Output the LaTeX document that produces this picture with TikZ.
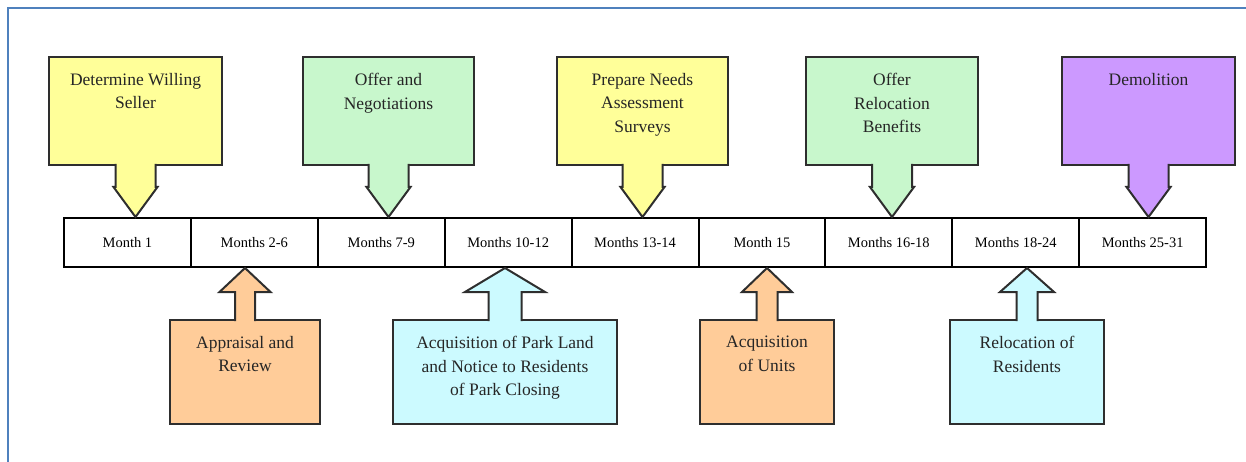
\documentclass[tikz,border=0pt]{standalone}
\usepackage{fontspec}
\setmainfont{Liberation Serif}
\usetikzlibrary{calc}

\definecolor{frameblue}{HTML}{4F81BD}
\definecolor{boxyellow}{HTML}{FFFF99}
\definecolor{boxgreen}{HTML}{C8F7CC}
\definecolor{boxpurple}{HTML}{CC99FF}
\definecolor{boxorange}{HTML}{FFCC99}
\definecolor{boxcyan}{HTML}{CCFAFF}
\definecolor{edgegray}{HTML}{2E2E2E}

\tikzset{
	cell/.style={draw=black, line width=2pt, minimum width=126.9pt, minimum height=49pt,
		inner sep=0pt, font=\fontsize{14.5}{17}\selectfont},
	callbox/.style={draw=edgegray, line width=2pt, outer sep=0pt, inner sep=0pt},
	boxtext/.style={anchor=north, inner sep=0pt, align=center, text=black!85,
		font=\fontsize{17.5}{23.5}\selectfont},
	pointer/.style={draw=edgegray, line width=2pt, line join=miter},
}

\begin{document}
\begin{tikzpicture}[x=1pt, y=-1pt]

	\useasboundingbox (0,0) rectangle (1246,462);
	\draw[frameblue, line width=2pt] (8,470) -- (8,8) -- (1250,8);

	% timeline
	\foreach \lbl [count=\i] in {Month 1, Months 2-6, Months 7-9, Months 10-12, Months 13-14,
		Month 15, Months 16-18, Months 18-24, Months 25-31}
		\node[cell] (m\i) at ({64+126.9*(\i-0.5)}, 242.5) {\lbl};

	% boxes above, pointing down
	\foreach \nm/\x/\bw/\col/\txt in {
		seller/135.5/173/boxyellow/{Determine Willing\\Seller},
		offer/388.5/171/boxgreen/{Offer and\\Negotiations},
		survey/642.5/171/boxyellow/{Prepare Needs\\Assessment\\Surveys},
		benefit/892/172/boxgreen/{Offer\\Relocation\\Benefits},
		demo/1148.5/173/boxpurple/{Demolition}}
	{
		\node[callbox, fill=\col, minimum width=\bw pt, minimum height=108pt,
			label={[boxtext, yshift=-16pt]north:{\txt}}] (\nm) at (\x, 111) {};
		\coordinate (\nm tip) at (\nm.south |- m1.north);
		\fill[\col] ($(\nm.south)+(-20,-3)$) -- ($(\nm tip)+(-20,-30)$) -- ($(\nm tip)+(-22,-30)$)
			-- (\nm tip) -- ($(\nm tip)+(22,-30)$) -- ($(\nm tip)+(20,-30)$) -- ($(\nm.south)+(20,-3)$) -- cycle;
		\draw[pointer] ($(\nm.south)+(-20,-1)$) -- ($(\nm tip)+(-20,-30)$) -- ($(\nm tip)+(-22,-30)$)
			-- (\nm tip) -- ($(\nm tip)+(22,-30)$) -- ($(\nm tip)+(20,-30)$) -- ($(\nm.south)+(20,-1)$);
	}

	% boxes below, pointing up
	\foreach \nm/\x/\bw/\col/\sh/\hh/\txt in {
		appraisal/245/150/boxorange/10/25.5/{Appraisal and\\Review},
		land/505/224/boxcyan/16.5/40/{Acquisition of Park Land\\and Notice to Residents\\of Park Closing},
		units/767/134/boxorange/10.5/25/{Acquisition\\of Units},
		reloc/1027/154/boxcyan/10.5/27/{Relocation of\\Residents}}
	{
		\node[callbox, fill=\col, minimum width=\bw pt, minimum height=104pt,
			label={[boxtext, yshift=-16pt]north:{\txt}}] (\nm) at (\x, 372) {};
		\coordinate (\nm tip) at (\nm.north |- m1.south);
		\fill[\col] ($(\nm.north)+(-\sh,3)$) -- ($(\nm tip)+(-\sh,24)$) -- ($(\nm tip)+(-\hh,24)$)
			-- (\nm tip) -- ($(\nm tip)+(\hh,24)$) -- ($(\nm tip)+(\sh,24)$) -- ($(\nm.north)+(\sh,3)$) -- cycle;
		\draw[pointer] ($(\nm.north)+(-\sh,1)$) -- ($(\nm tip)+(-\sh,24)$) -- ($(\nm tip)+(-\hh,24)$)
			-- (\nm tip) -- ($(\nm tip)+(\hh,24)$) -- ($(\nm tip)+(\sh,24)$) -- ($(\nm.north)+(\sh,1)$);
	}

\end{tikzpicture}
\end{document}
